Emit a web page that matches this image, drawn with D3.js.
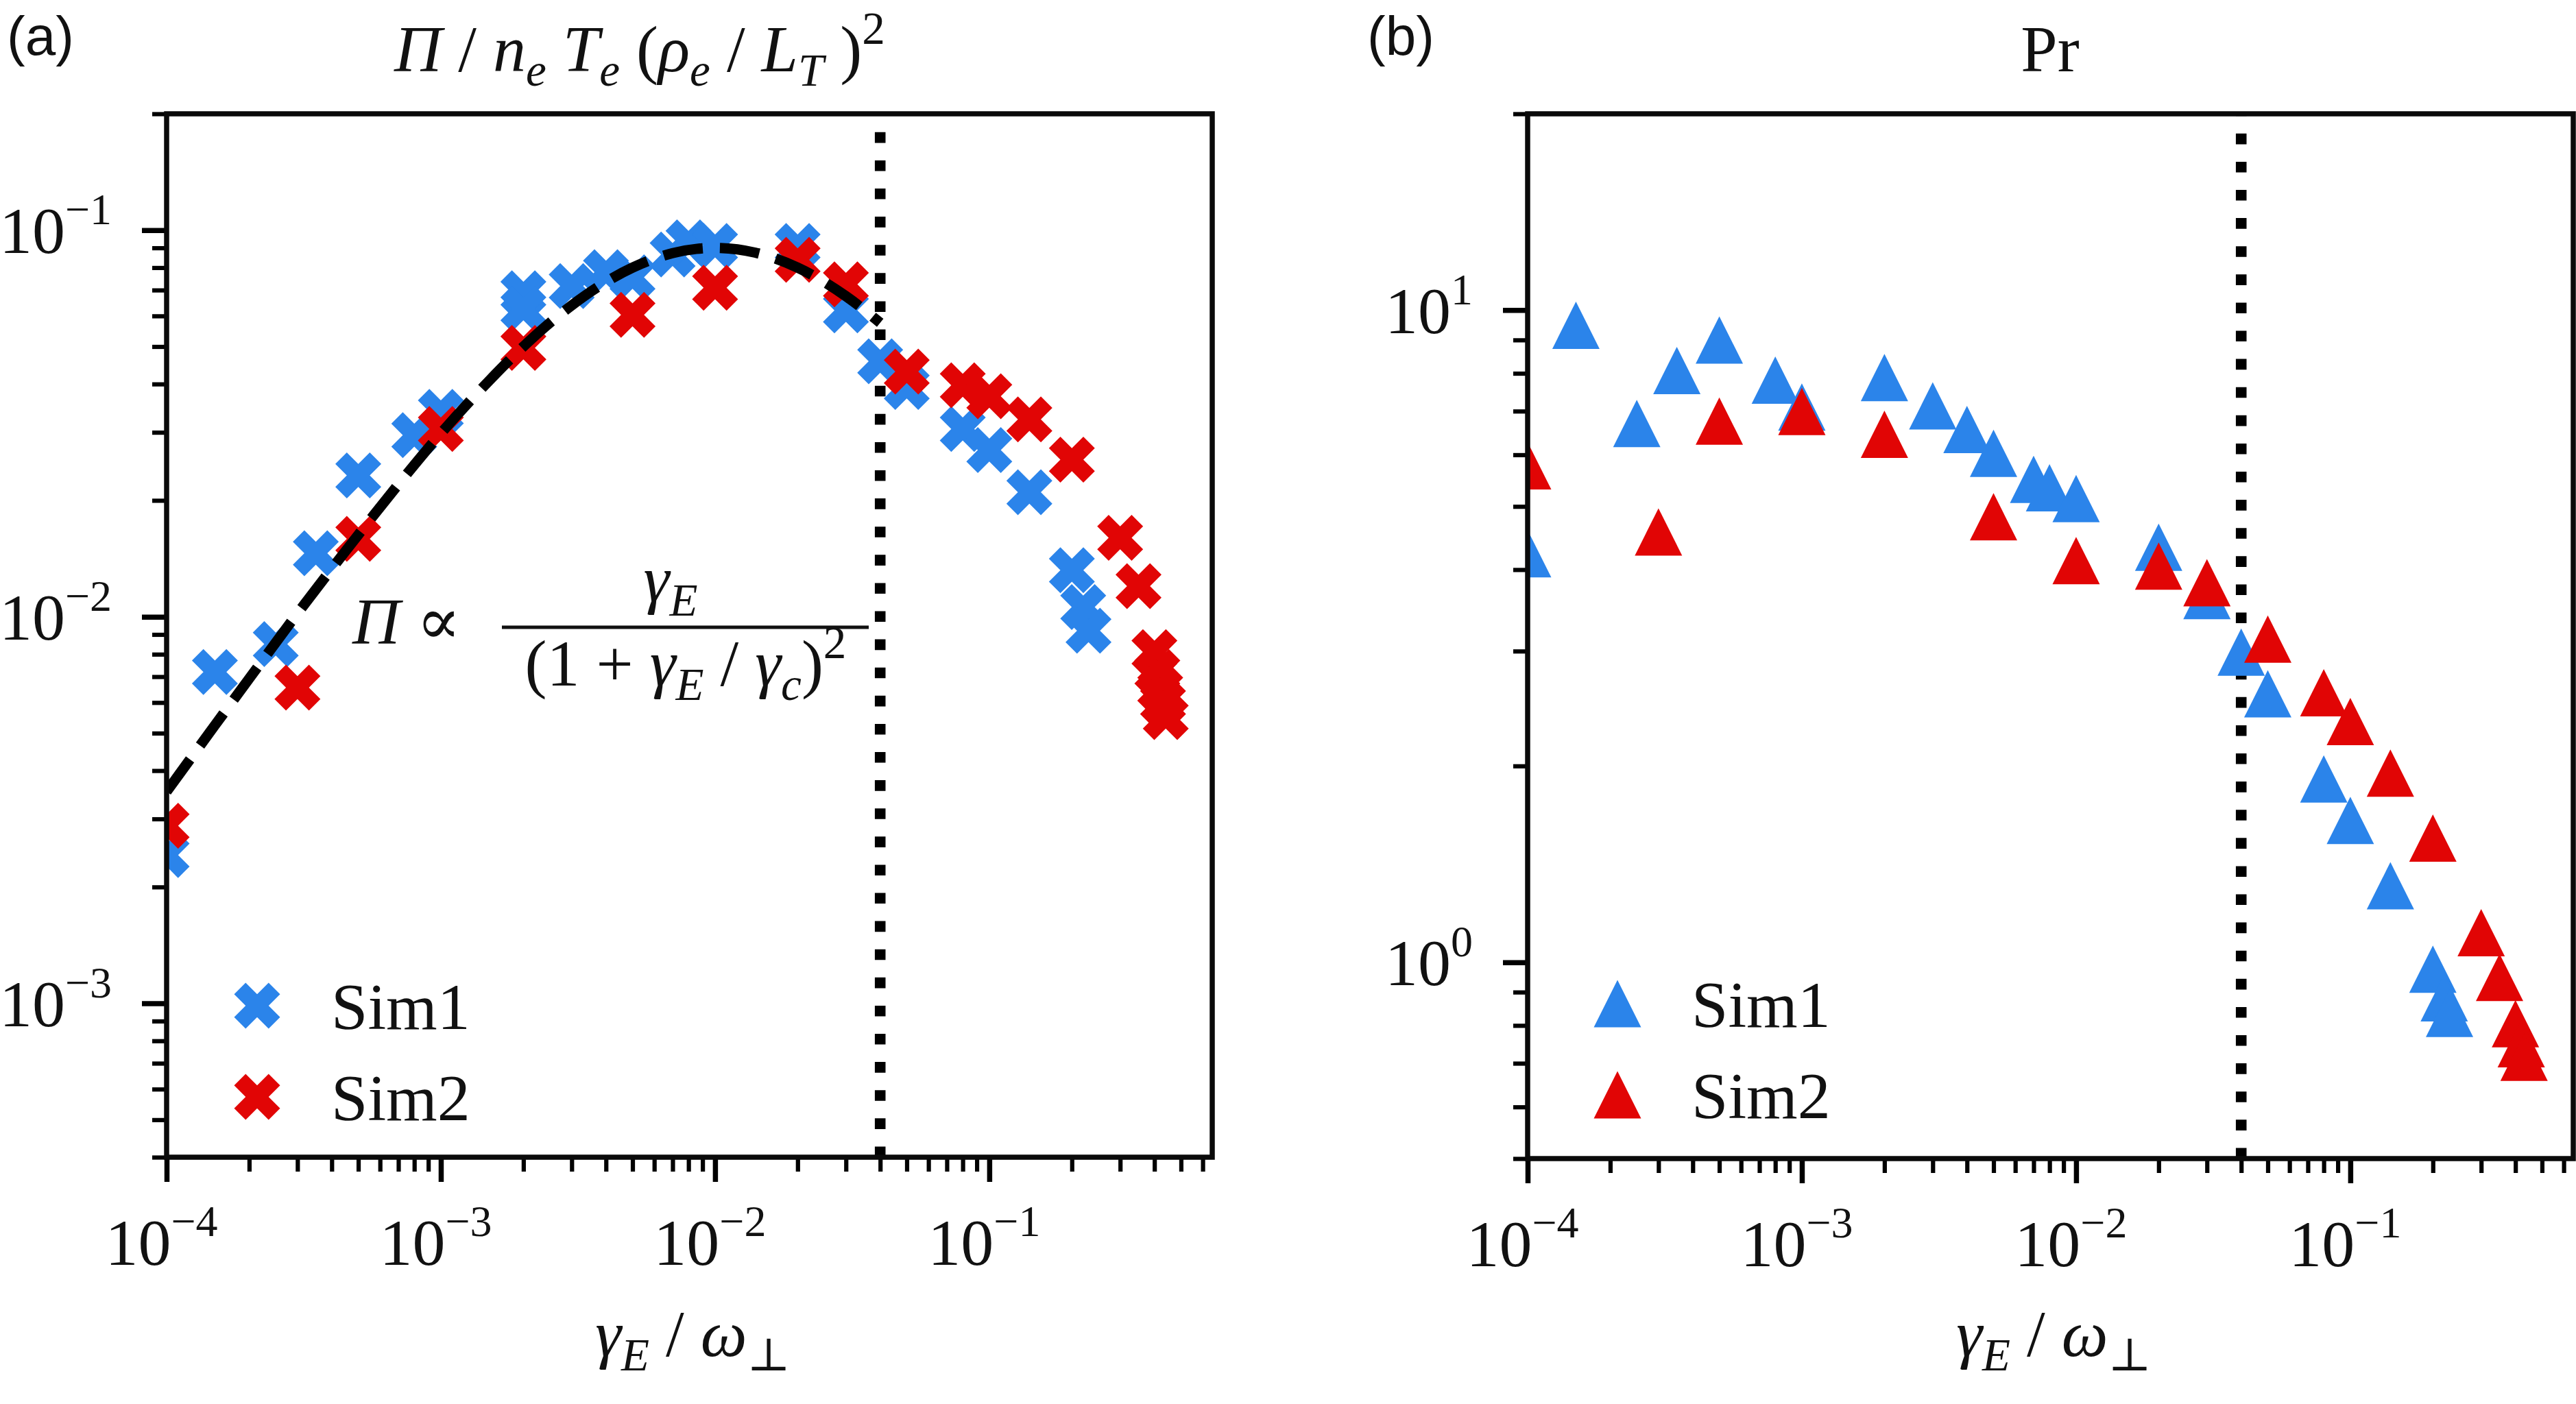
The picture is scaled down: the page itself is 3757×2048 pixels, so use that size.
<!DOCTYPE html>
<html><head><meta charset="utf-8">
<script src="https://cdn.jsdelivr.net/npm/d3@7"></script>
<style>body{margin:0;background:#fff}svg{display:block}</style>
</head><body>
<svg id="chart" width="3757" height="2048"></svg>
<script>
// ---------------- DATA ----------------
// Panel (a): normalised flux Π/n_e T_e (ρ_e/L_T)^2
const sim1FluxX = [1e-4, 1.5e-4, 2.5e-4, 3.5e-4, 5e-4, 8e-4, 1e-3, 2e-3, 2e-3, 3e-3, 4e-3, 5e-3, 7e-3, 8e-3, 1e-2, 2e-2, 3e-2, 4e-2, 5e-2, 8e-2, 1e-1, 1.4e-1, 2e-1, 2.2e-1, 2.3e-1];
const sim1FluxY = [0.00242, 0.0072, 0.0085, 0.0146, 0.0232, 0.0295, 0.0339, 0.0687, 0.0626, 0.0717, 0.0779, 0.0755, 0.0865, 0.093, 0.091, 0.091, 0.062, 0.0458, 0.0393, 0.0306, 0.027, 0.021, 0.0132, 0.0106, 0.0092];
const sim2FluxX = [1e-4, 3e-4, 5e-4, 1e-3, 2e-3, 5e-3, 1e-2, 2e-2, 3e-2, 5e-2, 8e-2, 1e-1, 1.4e-1, 2e-1, 3e-1, 3.5e-1, 4e-1, 4.1e-1, 4.2e-1, 4.3e-1, 4.4e-1];
const sim2FluxY = [0.00288, 0.00656, 0.0159, 0.0306, 0.0496, 0.0604, 0.071, 0.0838, 0.0724, 0.0431, 0.0397, 0.0372, 0.0324, 0.0255, 0.016, 0.012, 0.0081, 0.0072, 0.0065, 0.006, 0.0055];
// dashed fit curve  Π ∝ γE/(1+γE/γc)^2
const fitX = [1e-4, 1.5e-4, 2e-4, 3e-4, 5e-4, 7e-4, 1e-3, 1.5e-3, 2e-3, 3e-3, 5e-3, 7e-3, 1e-2, 1.4e-2, 2e-2, 3e-2, 4e-2];
const fitY = [0.00353, 0.00524, 0.00692, 0.0102, 0.0163, 0.0220, 0.0298, 0.0408, 0.050, 0.0639, 0.080, 0.0872, 0.090, 0.0875, 0.080, 0.0675, 0.0576];

// Panel (b): Prandtl number
const sim1PrX = [1e-4, 1.5e-4, 2.5e-4, 3.5e-4, 5e-4, 8e-4, 1e-3, 2e-3, 3e-3, 4e-3, 5e-3, 7e-3, 8e-3, 1e-2, 2e-2, 3e-2, 4e-2, 5e-2, 8e-2, 1e-1, 1.4e-1, 2e-1, 2.2e-1, 2.3e-1];
const sim1PrY = [4.23, 9.48, 6.70, 8.08, 9.0, 7.81, 7.10, 7.88, 7.13, 6.56, 6.03, 5.50, 5.34, 5.14, 4.33, 3.65, 2.99, 2.58, 1.91, 1.65, 1.31, 0.976, 0.882, 0.835];
const sim2PrX = [1e-4, 3e-4, 5e-4, 1e-3, 2e-3, 5e-3, 1e-2, 2e-2, 3e-2, 5e-2, 8e-2, 1e-1, 1.4e-1, 2e-1, 3e-1, 3.5e-1, 4e-1, 4.2e-1, 4.3e-1];
const sim2PrY = [5.77, 4.57, 6.76, 6.99, 6.45, 4.82, 4.13, 4.05, 3.82, 3.13, 2.59, 2.34, 1.95, 1.55, 1.11, 0.948, 0.805, 0.75, 0.715];

const critical = 0.04;            // vertical dotted line
const seriesNames = ["Sim1", "Sim2"];
const xTickPowers = [-4, -3, -2, -1];
const yTickPowersA = [-3, -2, -1];
const yTickPowersB = [0, 1];

// ---------------- STYLE ----------------
const BLUE = "#2b84ea", RED = "#e10505";
const SERIF = "'Liberation Serif','Times New Roman','DejaVu Serif',serif";
const SANS = "'Liberation Sans',Arial,'DejaVu Sans',sans-serif";
const FS = 96;

const svg = d3.select("#chart");
svg.append("rect").attr("width", 3757).attr("height", 2048).attr("fill", "#fff");

function rich(textSel, parts, size) {
  let cur = 0;
  parts.forEach(p => {
    const target = p.sub ? size * 0.22 : (p.sup ? -size * 0.42 : 0);
    const ts = textSel.append("tspan").text(p.t)
      .attr("dy", target - cur)
      .style("font-size", (p.sub || p.sup) ? (size * 0.7) + "px" : size + "px")
      .style("font-style", p.it ? "italic" : "normal");
    if (p.dx) ts.attr("dx", p.dx);
    cur = target;
  });
}

function minorTicks(lo, hi) {
  const out = [];
  for (let e = Math.floor(Math.log10(lo)); e <= Math.ceil(Math.log10(hi)); e++) {
    for (let k = 2; k <= 9; k++) {
      const v = k * Math.pow(10, e);
      if (v >= lo * 0.9999 && v <= hi * 1.0001) out.push(v);
    }
  }
  return out;
}

const X_PATH = (() => {
  const pts = [[-1,-2],[0,-1],[1,-2],[2,-1],[1,0],[2,1],[1,2],[0,1],[-1,2],[-2,1],[-1,0],[-2,-1]];
  const u = 67 / 4;
  return "M" + pts.map(p => (p[0]*u) + "," + (p[1]*u)).join("L") + "Z";
})();
const TRI_PATH = (() => {
  const h = 34.5;
  return `M0,${-h}L${-h},${h}L${h},${h}Z`;
})();

function drawPanel(cfg) {
  const {px0, px1, py0, py1, xDomain, yDomain, id} = cfg;
  const x = d3.scaleLog().domain(xDomain).range([px0, px1]);
  const y = d3.scaleLog().domain(yDomain).range([py1, py0]);
  const g = svg.append("g");

  svg.append("defs").append("clipPath").attr("id", "clip" + id)
    .append("rect").attr("x", px0).attr("y", py0).attr("width", px1 - px0).attr("height", py1 - py0);

  // vertical dotted line (behind markers)
  g.append("path")
    .attr("d", d3.line()([[x(critical), py1], [x(critical), py0]]))
    .attr("stroke", "#000").attr("stroke-width", 15.6)
    .attr("stroke-dasharray", "15.6,25.5").attr("fill", "none");

  const plot = g.append("g").attr("clip-path", `url(#clip${id})`);
  cfg.series.forEach(s => {
    plot.append("g").selectAll("path").data(s.xs.map((v, i) => [v, s.ys[i]]))
      .join("path")
      .attr("d", s.shape)
      .attr("transform", d => `translate(${x(d[0])},${y(d[1])})`)
      .attr("fill", s.color);
  });
  if (cfg.fit) {
    plot.append("path")
      .datum(cfg.fit.xs.map((v, i) => [v, cfg.fit.ys[i]]))
      .attr("d", d3.line().x(d => x(d[0])).y(d => y(d[1])).curve(d3.curveMonotoneX))
      .attr("fill", "none").attr("stroke", "#000").attr("stroke-width", 15)
      .attr("stroke-dasharray", "58,25");
  }

  // axes
  const gx = g.append("g").attr("transform", `translate(0,${py1})`);
  gx.append("g").call(d3.axisBottom(x).tickValues(minorTicks(xDomain[0], xDomain[1])).tickSize(21).tickSizeOuter(0).tickFormat(""))
    .call(a => { a.select(".domain").remove(); a.selectAll("line").attr("stroke", "#000").attr("stroke-width", 6.2); });
  const gxm = gx.append("g").call(d3.axisBottom(x).tickValues(xTickPowers.map(e => Math.pow(10, e))).tickSize(36).tickSizeOuter(0)
      .tickFormat(d => Math.round(Math.log10(d))))
    .attr("font-size", null).attr("font-family", null);
  gxm.select(".domain").remove();
  gxm.selectAll("line").attr("stroke", "#000").attr("stroke-width", 7.5);
  gxm.selectAll("text").each(function(d) {
    const e = Math.round(Math.log10(d));
    const t = d3.select(this);
    t.text(null).attr("y", 157).attr("dy", null).attr("fill", "#111")
      .style("font-family", SERIF).attr("text-anchor", "middle").attr("dx", -8);
    t.append("tspan").text("10").style("font-size", FS + "px");
    t.append("tspan").text(e < 0 ? "\u2212" + (-e) : String(e)).attr("dy", -42).style("font-size", "64px");
  });

  const gy = g.append("g").attr("transform", `translate(${px0},0)`);
  gy.append("g").call(d3.axisLeft(y).tickValues(minorTicks(yDomain[0], yDomain[1]).filter(v => Math.abs(Math.log10(v) - Math.round(Math.log10(v))) > 1e-6)).tickSize(21).tickSizeOuter(0).tickFormat(""))
    .call(a => { a.select(".domain").remove(); a.selectAll("line").attr("stroke", "#000").attr("stroke-width", 6.2); });
  const gym = gy.append("g").call(d3.axisLeft(y).tickValues(cfg.yPowers.map(e => Math.pow(10, e))).tickSize(36).tickSizeOuter(0)
      .tickFormat(d => Math.round(Math.log10(d))))
    .attr("font-size", null).attr("font-family", null);
  gym.select(".domain").remove();
  gym.selectAll("line").attr("stroke", "#000").attr("stroke-width", 7.5);
  gym.selectAll("text").each(function(d) {
    const e = Math.round(Math.log10(d));
    const t = d3.select(this);
    t.text(null).attr("x", -80).attr("y", 33).attr("dy", null).attr("fill", "#111")
      .style("font-family", SERIF).attr("text-anchor", "end");
    t.append("tspan").text("10").style("font-size", FS + "px");
    t.append("tspan").text(e < 0 ? "\u2212" + (-e) : String(e)).attr("dy", -42).style("font-size", "64px");
  });

  // frame
  g.append("rect").attr("x", px0).attr("y", py0).attr("width", px1 - px0).attr("height", py1 - py0)
    .attr("fill", "none").attr("stroke", "#0a0a0a").attr("stroke-width", 7.5);

  // x label
  const xl = g.append("text").attr("x", (px0 + px1) / 2 + 5).attr("y", 1978).attr("text-anchor", "middle")
    .attr("fill", "#111").style("font-family", SERIF);
  rich(xl, [{t: "γ", it: 1}, {t: "E", it: 1, sub: 1}, {t: " / "}, {t: "ω", it: 1}, {t: "⊥", sub: 1}], FS);

  // legend
  cfg.series.forEach((s, i) => {
    g.append("path").attr("d", s.shape).attr("fill", s.color)
      .attr("transform", `translate(${cfg.legX},${cfg.legY + i * 133})`);
    g.append("text").attr("x", cfg.legX + 108).attr("y", cfg.legY + 34 + i * 133)
      .attr("fill", "#111").style("font-family", SERIF).style("font-size", FS + "px").text(seriesNames[i]);
  });
  return {x, y, g};
}

// ---------- panel (a) ----------
const A = drawPanel({
  id: "a", px0: 243, px1: 1768, py0: 166, py1: 1688,
  xDomain: [1e-4, 0.65], yDomain: [4e-4, 0.2], yPowers: yTickPowersA,
  series: [
    {xs: sim1FluxX, ys: sim1FluxY, color: BLUE, shape: X_PATH},
    {xs: sim2FluxX, ys: sim2FluxY, color: RED, shape: X_PATH}
  ],
  fit: {xs: fitX, ys: fitY},
  legX: 375, legY: 1467
});

// ---------- panel (b) ----------
const B = drawPanel({
  id: "b", px0: 2228, px1: 3753, py0: 166, py1: 1690,
  xDomain: [1e-4, 0.65], yDomain: [0.5, 20], yPowers: yTickPowersB,
  series: [
    {xs: sim1PrX, ys: sim1PrY, color: BLUE, shape: TRI_PATH},
    {xs: sim2PrX, ys: sim2PrY, color: RED, shape: TRI_PATH}
  ],
  legX: 2359, legY: 1464
});

// titles
const ta = svg.append("text").attr("x", 575).attr("y", 104).attr("fill", "#111").style("font-family", SERIF);
rich(ta, [{t: "Π", it: 1}, {t: " / "}, {t: "n", it: 1}, {t: "e", it: 1, sub: 1}, {t: " T", it: 1}, {t: "e", it: 1, sub: 1},
          {t: " ("}, {t: "ρ", it: 1}, {t: "e", it: 1, sub: 1}, {t: " / "}, {t: "L", it: 1}, {t: "T", it: 1, sub: 1}, {t: " )"}, {t: "2", sup: 1}], FS);
svg.append("text").attr("x", 2990).attr("y", 104).attr("text-anchor", "middle").attr("fill", "#111")
  .style("font-family", SERIF).style("font-size", FS + "px").text("Pr");

// panel letters
svg.append("text").attr("x", 10).attr("y", 80).attr("fill", "#111").style("font-family", SANS).style("font-size", "80px").text("(a)");
svg.append("text").attr("x", 1994).attr("y", 80).attr("fill", "#111").style("font-family", SANS).style("font-size", "80px").text("(b)");

// annotation formula in panel (a)
const an = svg.append("g").attr("fill", "#111").style("font-family", SERIF);
const pi = an.append("text").attr("x", 514).attr("y", 939);
rich(pi, [{t: "Π", it: 1}, {t: " ∝"}], FS);
an.append("line").attr("x1", 732).attr("x2", 1267).attr("y1", 915).attr("y2", 915).attr("stroke", "#111").attr("stroke-width", 5);
const num = an.append("text").attr("x", 978).attr("y", 877).attr("text-anchor", "middle");
rich(num, [{t: "γ", it: 1}, {t: "E", it: 1, sub: 1}], FS);
const den = an.append("text").attr("x", 1000).attr("y", 1000).attr("text-anchor", "middle");
rich(den, [{t: "(1 + "}, {t: "γ", it: 1}, {t: "E", it: 1, sub: 1}, {t: " / "}, {t: "γ", it: 1}, {t: "c", it: 1, sub: 1}, {t: ")"}, {t: "2", sup: 1}], FS);
</script>
</body></html>
